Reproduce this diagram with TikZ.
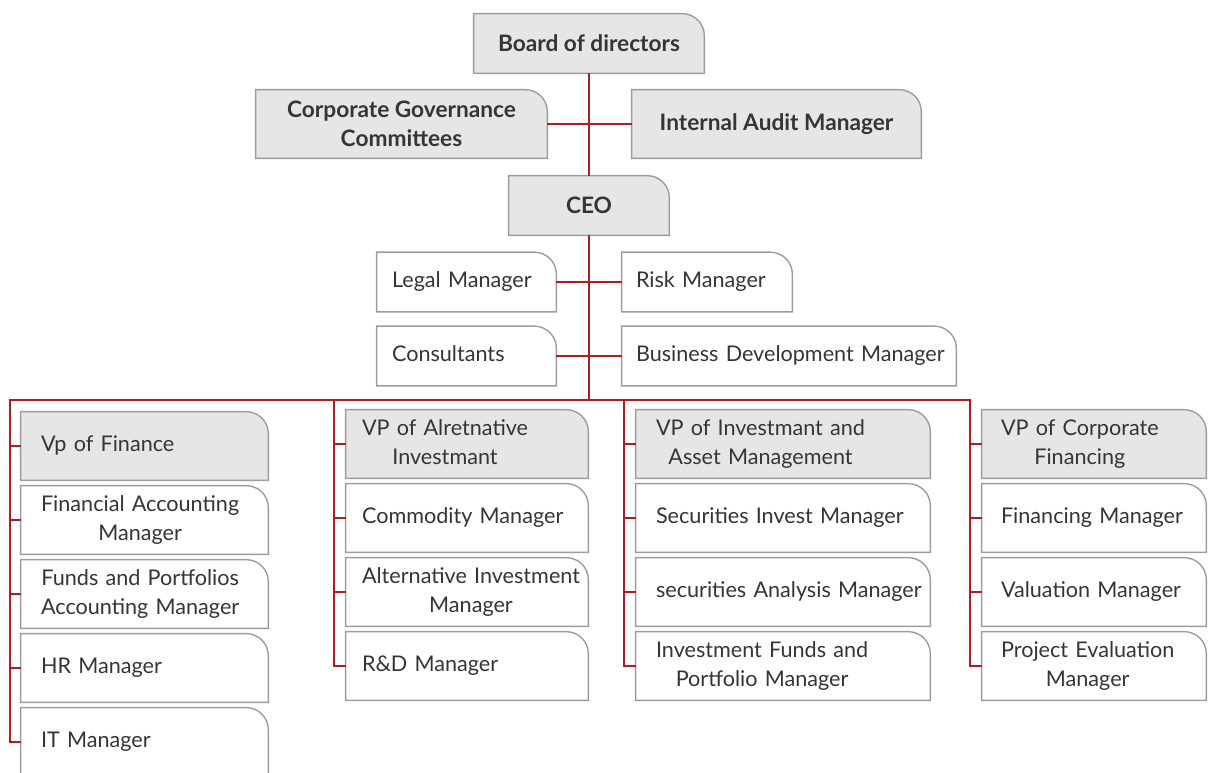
\documentclass[tikz,border=0pt]{standalone}
\usepackage{fontspec}
\setmainfont{Lato}
\usetikzlibrary{backgrounds}
\definecolor{linkred}{HTML}{B01C24}
\definecolor{boxgray}{HTML}{E6E6E6}
\definecolor{framegray}{HTML}{9C9C9C}
\definecolor{textgray}{HTML}{353535}
\newcommand{\rad}{0.44cm}
\newcommand{\lbl}[1]{\begin{tabular}{@{}c@{}}#1\end{tabular}}

\begin{document}
\begin{tikzpicture}[x=0.02cm, y=-0.02cm,
  head/.style={minimum height=1.18cm, text=textgray, align=center, font=\fontsize{12.9}{16.5}\selectfont\bfseries},
  card/.style={minimum height=1.36cm, inner ysep=0pt, text=textgray, align=left, font=\fontsize{12.3}{16.5}\selectfont},
  colA/.style={card, text width=4.14cm, inner xsep=0.4cm},
  colB/.style={card, text width=4.2cm, inner xsep=0.32cm},
  colC/.style={card, text width=5.08cm, inner xsep=0.4cm},
  colD/.style={card, text width=3.72cm, inner xsep=0.38cm},
  frame/.style={draw=framegray, line width=0.8pt},
  link/.style={draw=linkred, line width=1.15pt}]
\useasboundingbox (0,0) rectangle (1208,772);
%top
\node[head, minimum width=4.6cm] (board) at (589,43.5) {Board of directors};
\node[head, minimum width=5.82cm, minimum height=1.36cm] (govern) at (401.5,124) {Corporate Governance\\Committees};
\node[head, minimum width=5.78cm, minimum height=1.36cm] (audit) at (776.5,124) {Internal Audit Manager};
\node[head, minimum width=3.2cm] (ceo) at (589,205.5) {CEO};
%staff
\node[card, minimum height=1.18cm, text width=2.98cm, inner xsep=0.3cm] (legal) at (466.5,282) {\lbl{Legal Manager}};
\node[card, minimum height=1.18cm, text width=2.84cm, inner xsep=0.28cm] (risk) at (707,282) {\lbl{Risk Manager}};
\node[card, minimum height=1.18cm, text width=2.98cm, inner xsep=0.3cm] (consult) at (466.5,356) {\lbl{Consultants}};
\node[card, minimum height=1.18cm, text width=6.12cm, inner xsep=0.28cm] (busdev) at (789,356) {\lbl{Business Development Manager}};
%finance
\node[colA] (finvp) at (144.5,446) {\lbl{Vp of Finance}};
\node[colA] (finacc) at (144.5,520) {\lbl{Financial Accounting\\Manager}};
\node[colA] (fundacc) at (144.5,594) {\lbl{Funds and Portfolios\\Accounting Manager}};
\node[colA] (hr) at (144.5,668) {\lbl{HR Manager}};
\node[colA] (it) at (144.5,742) {\lbl{IT Manager}};
%alternative
\node[colB] (altvp) at (467,444) {\lbl{VP of Alretnative\\Investmant}};
\node[colB] (commod) at (467,518) {\lbl{Commodity Manager}};
\node[colB] (altinv) at (467,592) {\lbl{Alternative Investment\\Manager}};
\node[colB] (rnd) at (467,666) {\lbl{R\&D Manager}};
%investment
\node[colC] (invvp) at (783,444) {\lbl{VP of Investmant and\\Asset Management}};
\node[colC] (secinv) at (783,518) {\lbl{Securities Invest Manager}};
\node[colC] (secana) at (783,592) {\lbl{securities Analysis Manager}};
\node[colC] (invfund) at (783,666) {\lbl{Investment Funds and\\Portfolio Manager}};
%corporate financing
\node[colD] (corpvp) at (1094,444) {\lbl{VP of Corporate\\Financing}};
\node[colD] (financ) at (1094,518) {\lbl{Financing Manager}};
\node[colD] (valu) at (1094,592) {\lbl{Valuation Manager}};
\node[colD] (projev) at (1094,666) {\lbl{Project Evaluation\\Manager}};
%lines
\coordinate (hub) at (589,400);
\coordinate (barA) at (10,400);
\coordinate (barB) at (334,400);
\coordinate (barC) at (624,400);
\coordinate (barD) at (970,400);
\draw[link] (board) -- (ceo);
\draw[link] (govern) -- (audit);
\draw[link] (ceo) -- (hub);
\draw[link] (legal) -- (risk);
\draw[link] (consult) -- (busdev);
\draw[link] (it.west) -| (barA) -- (barD) |- (projev.west);
\draw[link] (barB) |- (rnd.west);
\draw[link] (barC) |- (invfund.west);
\draw[link] (barA |- finvp.west) -- (finvp.west);
\draw[link] (barA |- finacc.west) -- (finacc.west);
\draw[link] (barA |- fundacc.west) -- (fundacc.west);
\draw[link] (barA |- hr.west) -- (hr.west);
\draw[link] (barB |- altvp.west) -- (altvp.west);
\draw[link] (barB |- commod.west) -- (commod.west);
\draw[link] (barB |- altinv.west) -- (altinv.west);
\draw[link] (barC |- invvp.west) -- (invvp.west);
\draw[link] (barC |- secinv.west) -- (secinv.west);
\draw[link] (barC |- secana.west) -- (secana.west);
\draw[link] (barD |- corpvp.west) -- (corpvp.west);
\draw[link] (barD |- financ.west) -- (financ.west);
\draw[link] (barD |- valu.west) -- (valu.west);
%frames
\begin{scope}[on background layer]
\draw[frame, fill=boxgray] (board.south west) -- (board.north west) [rounded corners=\rad] -- (board.north east) [sharp corners] -- (board.south east) -- cycle;
\draw[frame, fill=boxgray] (govern.south west) -- (govern.north west) [rounded corners=\rad] -- (govern.north east) [sharp corners] -- (govern.south east) -- cycle;
\draw[frame, fill=boxgray] (audit.south west) -- (audit.north west) [rounded corners=\rad] -- (audit.north east) [sharp corners] -- (audit.south east) -- cycle;
\draw[frame, fill=boxgray] (ceo.south west) -- (ceo.north west) [rounded corners=\rad] -- (ceo.north east) [sharp corners] -- (ceo.south east) -- cycle;
\draw[frame, fill=white] (legal.south west) -- (legal.north west) [rounded corners=\rad] -- (legal.north east) [sharp corners] -- (legal.south east) -- cycle;
\draw[frame, fill=white] (risk.south west) -- (risk.north west) [rounded corners=\rad] -- (risk.north east) [sharp corners] -- (risk.south east) -- cycle;
\draw[frame, fill=white] (consult.south west) -- (consult.north west) [rounded corners=\rad] -- (consult.north east) [sharp corners] -- (consult.south east) -- cycle;
\draw[frame, fill=white] (busdev.south west) -- (busdev.north west) [rounded corners=\rad] -- (busdev.north east) [sharp corners] -- (busdev.south east) -- cycle;
\draw[frame, fill=boxgray] (finvp.south west) -- (finvp.north west) [rounded corners=\rad] -- (finvp.north east) [sharp corners] -- (finvp.south east) -- cycle;
\draw[frame, fill=white] (finacc.south west) -- (finacc.north west) [rounded corners=\rad] -- (finacc.north east) [sharp corners] -- (finacc.south east) -- cycle;
\draw[frame, fill=white] (fundacc.south west) -- (fundacc.north west) [rounded corners=\rad] -- (fundacc.north east) [sharp corners] -- (fundacc.south east) -- cycle;
\draw[frame, fill=white] (hr.south west) -- (hr.north west) [rounded corners=\rad] -- (hr.north east) [sharp corners] -- (hr.south east) -- cycle;
\draw[frame, fill=white] (it.south west) -- (it.north west) [rounded corners=\rad] -- (it.north east) [sharp corners] -- (it.south east) -- cycle;
\draw[frame, fill=boxgray] (altvp.south west) -- (altvp.north west) [rounded corners=\rad] -- (altvp.north east) [sharp corners] -- (altvp.south east) -- cycle;
\draw[frame, fill=white] (commod.south west) -- (commod.north west) [rounded corners=\rad] -- (commod.north east) [sharp corners] -- (commod.south east) -- cycle;
\draw[frame, fill=white] (altinv.south west) -- (altinv.north west) [rounded corners=\rad] -- (altinv.north east) [sharp corners] -- (altinv.south east) -- cycle;
\draw[frame, fill=white] (rnd.south west) -- (rnd.north west) [rounded corners=\rad] -- (rnd.north east) [sharp corners] -- (rnd.south east) -- cycle;
\draw[frame, fill=boxgray] (invvp.south west) -- (invvp.north west) [rounded corners=\rad] -- (invvp.north east) [sharp corners] -- (invvp.south east) -- cycle;
\draw[frame, fill=white] (secinv.south west) -- (secinv.north west) [rounded corners=\rad] -- (secinv.north east) [sharp corners] -- (secinv.south east) -- cycle;
\draw[frame, fill=white] (secana.south west) -- (secana.north west) [rounded corners=\rad] -- (secana.north east) [sharp corners] -- (secana.south east) -- cycle;
\draw[frame, fill=white] (invfund.south west) -- (invfund.north west) [rounded corners=\rad] -- (invfund.north east) [sharp corners] -- (invfund.south east) -- cycle;
\draw[frame, fill=boxgray] (corpvp.south west) -- (corpvp.north west) [rounded corners=\rad] -- (corpvp.north east) [sharp corners] -- (corpvp.south east) -- cycle;
\draw[frame, fill=white] (financ.south west) -- (financ.north west) [rounded corners=\rad] -- (financ.north east) [sharp corners] -- (financ.south east) -- cycle;
\draw[frame, fill=white] (valu.south west) -- (valu.north west) [rounded corners=\rad] -- (valu.north east) [sharp corners] -- (valu.south east) -- cycle;
\draw[frame, fill=white] (projev.south west) -- (projev.north west) [rounded corners=\rad] -- (projev.north east) [sharp corners] -- (projev.south east) -- cycle;
\end{scope}
\end{tikzpicture}
\end{document}
